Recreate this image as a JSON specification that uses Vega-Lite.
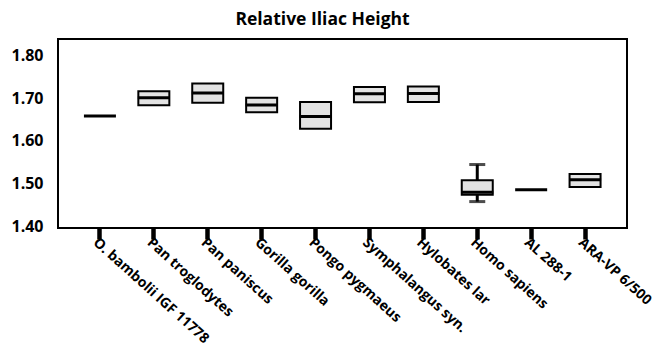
{
  "$schema": "https://vega.github.io/schema/vega-lite/v6.json",
  "width": 569,
  "height": 189,
  "autosize": {"type": "none"},
  "padding": {"left": 58, "top": 39, "right": 37, "bottom": 126},
  "title": {"text": "Relative Iliac Height", "font": "Open Sans", "fontSize": 17.5, "fontWeight": "bold", "color": "black", "offset": 11, "dx": -20},
  "config": {
    "view": {"stroke": "black", "strokeWidth": 2},
    "axis": {"labelFont": "Open Sans", "labelFontWeight": "bold", "labelColor": "black", "grid": false, "domain": false, "title": null},
    "axisX": {"tickWidth": 4.5, "tickColor": "black", "tickSize": 11}
  },
  "data": {"values": [
    {"s": "O. bambolii IGF 11778", "med": 1.663},
    {"s": "Pan troglodytes", "lo": 1.688, "med": 1.706, "hi": 1.721},
    {"s": "Pan paniscus", "lo": 1.694, "med": 1.717, "hi": 1.739},
    {"s": "Gorilla gorilla", "lo": 1.672, "med": 1.689, "hi": 1.706},
    {"s": "Pongo pygmaeus", "lo": 1.633, "med": 1.662, "hi": 1.696},
    {"s": "Symphalangus syn.", "lo": 1.695, "med": 1.715, "hi": 1.731},
    {"s": "Hylobates lar", "lo": 1.696, "med": 1.716, "hi": 1.732},
    {"s": "Homo sapiens", "min": 1.462, "lo": 1.478, "med": 1.484, "hi": 1.512, "max": 1.549},
    {"s": "AL 288-1", "med": 1.490},
    {"s": "ARA-VP 6/500", "lo": 1.496, "med": 1.513, "hi": 1.527}
  ]},
  "encoding": {
    "x": {
      "field": "s", "type": "nominal", "sort": null,
      "scale": {"domain": ["O. bambolii IGF 11778", "Pan troglodytes", "Pan paniscus", "Gorilla gorilla", "Pongo pygmaeus", "Symphalangus syn.", "Hylobates lar", "Homo sapiens", "AL 288-1", "ARA-VP 6/500"], "paddingInner": 0, "paddingOuter": 0.278},
      "axis": {"ticks": true, "labelAngle": 42, "labelAlign": "left", "labelBaseline": "top", "labelFontSize": 14, "labelPadding": -4}
    }
  },
  "layer": [
    {
      "transform": [{"filter": "isValid(datum.min)"}],
      "mark": {"type": "rule", "strokeWidth": 3, "color": "black"},
      "encoding": {
        "y": {"field": "min", "type": "quantitative", "scale": {"domain": [1.4, 1.8437], "nice": false, "zero": false},
          "axis": {"values": [1.4, 1.5, 1.6, 1.7, 1.8], "format": ".2f", "labelFontSize": 16, "ticks": false, "labelPadding": 15, "labelOffset": -2}},
        "y2": {"field": "max"}
      }
    },
    {
      "transform": [{"filter": "isValid(datum.min)"}],
      "mark": {"type": "tick", "size": 16, "thickness": 3, "color": "black"},
      "encoding": {"y": {"field": "min", "type": "quantitative"}}
    },
    {
      "transform": [{"filter": "isValid(datum.max)"}],
      "mark": {"type": "tick", "size": 16, "thickness": 3, "color": "black"},
      "encoding": {"y": {"field": "max", "type": "quantitative"}}
    },
    {
      "transform": [{"filter": "isValid(datum.lo)"}],
      "mark": {"type": "bar", "size": 31, "fill": "#e3e3e3", "stroke": "black", "strokeWidth": 2},
      "encoding": {"y": {"field": "lo", "type": "quantitative"}, "y2": {"field": "hi"}}
    },
    {
      "mark": {"type": "tick", "size": 32, "thickness": 3, "color": "black", "opacity": 1},
      "encoding": {"y": {"field": "med", "type": "quantitative"}}
    }
  ]
}
